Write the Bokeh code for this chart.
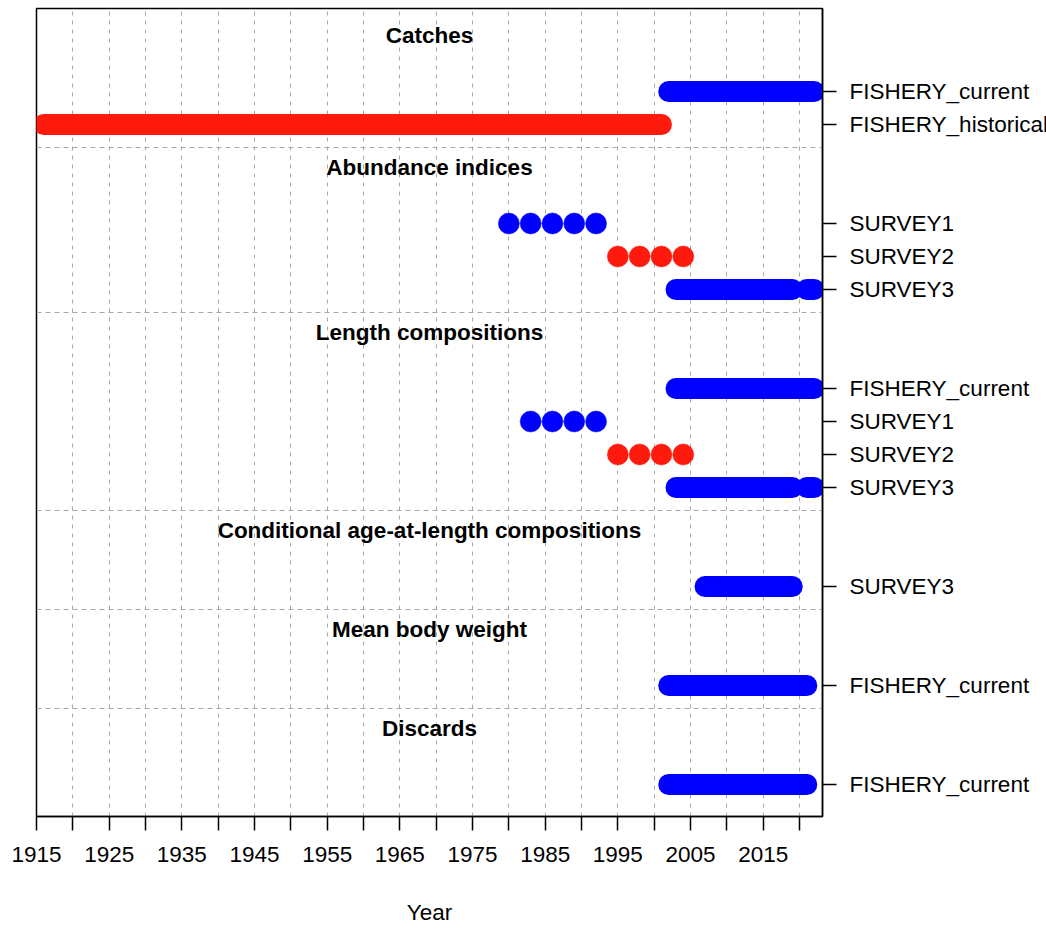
from bokeh.plotting import figure
from bokeh.models import Range1d, FixedTicker
from bokeh.core.properties import value
from bokeh.embed import file_html
from bokeh.resources import INLINE

# ---- data ----
data_types = ["Catches", "Abundance indices", "Length compositions",
              "Conditional age-at-length compositions", "Mean body weight", "Discards"]

catch_fleets = ["FISHERY_current", "FISHERY_historical"]
catch_current = list(range(2002, 2023))
catch_historical = list(range(1916, 2002))

index_fleets = ["SURVEY1", "SURVEY2", "SURVEY3"]
index_survey1 = [1980, 1983, 1986, 1989, 1992]
index_survey2 = [1995, 1998, 2001, 2004]
index_survey3 = list(range(2003, 2020)) + [2021, 2022]

length_fleets = ["FISHERY_current", "SURVEY1", "SURVEY2", "SURVEY3"]
length_current = list(range(2003, 2023))
length_survey1 = [1983, 1986, 1989, 1992]
length_survey2 = [1995, 1998, 2001, 2004]
length_survey3 = list(range(2003, 2020)) + [2021, 2022]

caal_fleets = ["SURVEY3"]
caal_survey3 = list(range(2007, 2020))

mbw_fleets = ["FISHERY_current"]
mbw_current = list(range(2002, 2022))

discard_fleets = ["FISHERY_current"]
discard_current = list(range(2002, 2022))

fleet_colors = {"FISHERY_current": "#0000FF", "FISHERY_historical": "#FF1A0E",
                "SURVEY1": "#0000FF", "SURVEY2": "#FF1A0E", "SURVEY3": "#0000FF"}

x_ticks = list(range(1915, 2021, 5))
x_labels = [str(t) if (t - 1915) % 10 == 0 else "" for t in x_ticks]

groups = [
    (data_types[0], list(zip(catch_fleets, [catch_current, catch_historical]))),
    (data_types[1], list(zip(index_fleets, [index_survey1, index_survey2, index_survey3]))),
    (data_types[2], list(zip(length_fleets, [length_current, length_survey1, length_survey2, length_survey3]))),
    (data_types[3], list(zip(caal_fleets, [caal_survey3]))),
    (data_types[4], list(zip(mbw_fleets, [mbw_current]))),
    (data_types[5], list(zip(discard_fleets, [discard_current]))),
]

# ---- layout of rows (bottom up) ----
rows = []          # (y, fleet, years)
title_pos = []     # (y, title)
separators = []
y = 1.0
for gi, (title, fleets) in enumerate(reversed(groups)):
    for fleet, years in reversed(fleets):
        rows.append((y, fleet, years))
        y += 1
    top = y - 1
    title_pos.append((top + 1.69, title))
    if gi < len(groups) - 1:
        separators.append(top + 2.3)
    y = top + 3


def runs(years):
    out, cur = [], [years[0]]
    for a in years[1:]:
        if a == cur[-1] + 1:
            cur.append(a)
        else:
            out.append(cur)
            cur = [a]
    out.append(cur)
    return out


FONT = value("Liberation Sans")
FS = "22.5px"

p = figure(frame_width=786, frame_height=808,
           x_range=Range1d(1915, 2023.16), y_range=Range1d(0.03, 24.515),
           output_backend="svg", toolbar_location=None,
           y_axis_location="right",
           min_border_left=36, min_border_top=8, min_border_right=0)

p.outline_line_color = "black"
p.outline_line_width = 1.5
p.outline_line_alpha = 1.0
p.background_fill_color = "white"
p.border_fill_color = "white"

# x axis
xt = FixedTicker(ticks=x_ticks)
p.xaxis.ticker = xt
p.xaxis.major_label_overrides = {t: l for t, l in zip(x_ticks, x_labels)}
p.xaxis.axis_label = "Year"
p.xaxis.axis_label_text_font = "Liberation Sans"
p.xaxis.axis_label_text_font_style = "normal"
p.xaxis.axis_label_text_font_size = FS
p.xaxis.axis_label_text_color = "black"
p.xaxis.axis_label_standoff = 35
p.xaxis.major_label_text_font = "Liberation Sans"
p.xaxis.major_label_text_font_size = FS
p.xaxis.major_label_text_color = "black"
p.xaxis.major_label_standoff = 16
p.xaxis.major_tick_out = 14
p.xaxis.major_tick_in = 0
p.xaxis.minor_tick_out = 0
p.xaxis.minor_tick_in = 0
p.xaxis.major_tick_line_width = 1.5
p.xaxis.major_tick_line_color = "black"
p.xaxis.axis_line_width = 1.5
p.xaxis.axis_line_color = "black"

# y axis (right)
row_ys = [r[0] for r in rows]
p.yaxis.ticker = FixedTicker(ticks=row_ys)
p.yaxis.major_label_overrides = {r[0]: r[1] for r in rows}
p.yaxis.major_label_text_font = "Liberation Sans"
p.yaxis.major_label_text_font_size = FS
p.yaxis.major_label_text_color = "black"
p.yaxis.major_label_standoff = 13
p.yaxis.major_tick_out = 14
p.yaxis.major_tick_in = 0
p.yaxis.minor_tick_out = 0
p.yaxis.minor_tick_in = 0
p.yaxis.major_tick_line_width = 1.5
p.yaxis.major_tick_line_color = "black"
p.yaxis.axis_line_width = 1.5
p.yaxis.axis_line_color = "black"

# grids
p.xgrid.ticker = xt
p.xgrid.grid_line_color = "#A8A8A8"
p.xgrid.grid_line_dash = "4 5"
p.xgrid.grid_line_width = 1
p.ygrid.ticker = FixedTicker(ticks=separators)
p.ygrid.grid_line_color = "#A8A8A8"
p.ygrid.grid_line_dash = "5 4"
p.ygrid.grid_line_width = 1

# marks: consecutive years drawn as round-capped bars, isolated years as dots
for yy, fleet, years in rows:
    c = fleet_colors[fleet]
    for run in runs(years):
        if len(run) > 1:
            p.line(x=run, y=[yy] * len(run), line_width=21, line_color=c,
                   line_cap="round")
        else:
            p.scatter(x=run, y=[yy], marker="circle", size=21,
                      fill_color=c, line_color=c, line_width=0.5)

# titles
xmid = (p.x_range.start + p.x_range.end) / 2
p.text(x=[xmid] * len(title_pos), y=[t[0] for t in title_pos],
       text=[t[1] for t in title_pos], text_align="center", text_baseline="middle",
       text_font=FONT, text_font_style="bold", text_font_size=FS, text_color="black")

open("out.html", "w").write(file_html(p, INLINE))
